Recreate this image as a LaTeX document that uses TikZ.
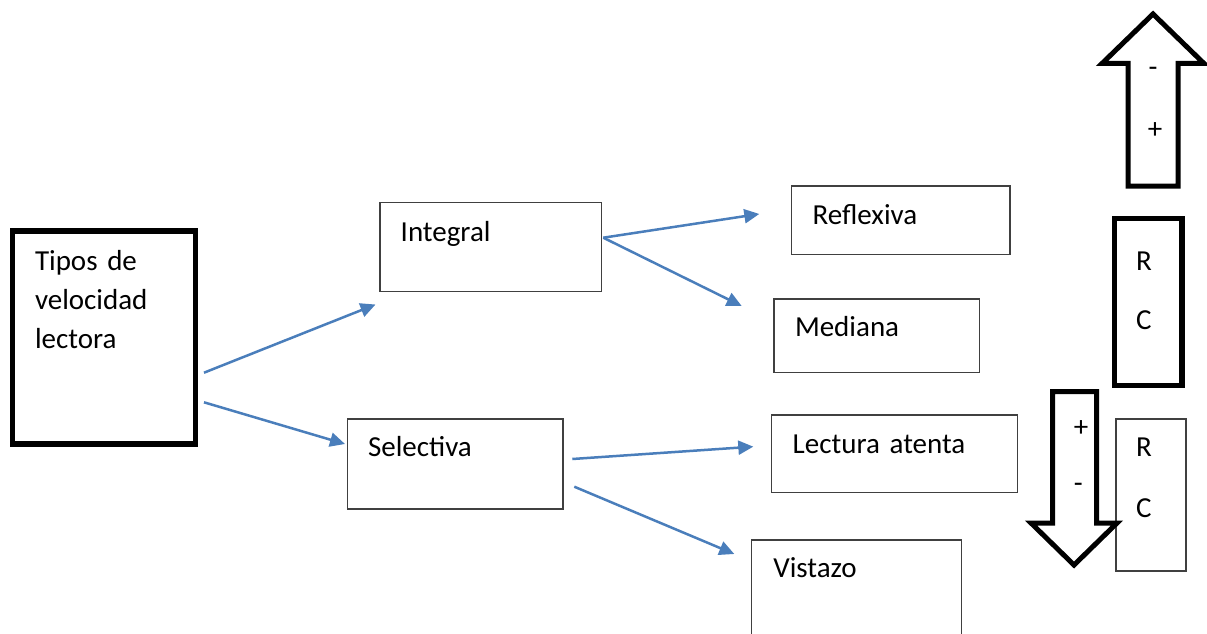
\documentclass[tikz,border=0pt]{standalone}
\usepackage{fontspec}
\setmainfont{Carlito}
\usetikzlibrary{arrows.meta}

\definecolor{linkblue}{HTML}{4A7EBB}

\tikzset{
  box/.style={draw=black!75, line width=1.3pt, anchor=north west, align=left,
    inner ysep=0pt, outer sep=0pt, font=\fontsize{29}{39}\selectfont},
  thickbox/.style={box, draw=black, line width=5.4pt},
  link/.style={draw=linkblue, line width=2.5pt,
    -{Triangle[length=15pt,width=14pt]}},
  blockarrow/.style={draw=black, line width=5pt, line join=miter},
  sign/.style={inner sep=0pt, font=\fontsize{29}{39}\selectfont}
}

\begin{document}
\begin{tikzpicture}[x=1pt,y=-1pt]
    \useasboundingbox (0,0) rectangle (1207,634);
    \clip (0,0) rectangle (1207,634);

    % boxes
    \node[thickbox, inner xsep=22.5pt, text width=138pt, text height=39pt, text depth=174pt]
      (tipos) at (12.5,231) {Tipos de\\velocidad\\lectora};
    \node[box, inner xsep=20.7pt, text width=180.3pt, text height=38.3pt, text depth=50.7pt]
      (integral) at (380,202.7) {Integral};
    \node[box, inner xsep=20.7pt, text width=174.3pt, text height=37.7pt, text depth=52.3pt]
      (selectiva) at (347.3,419) {Selectiva};
    \node[box, inner xsep=21pt, text width=176.3pt, text height=38.3pt, text depth=30pt]
      (reflexiva) at (791.7,186) {Reflexiva};
    \node[box, inner xsep=21pt, text width=163.3pt, text height=37.7pt, text depth=35.6pt]
      (mediana) at (774,299) {Mediana};
    \node[box, inner xsep=21pt, text width=204pt, text height=38.3pt, text depth=39.4pt]
      (lectura) at (771.7,415) {Lectura atenta};
    \node[box, inner xsep=21.6pt, text width=166.8pt, text height=37.7pt, text depth=100pt]
      (vistazo) at (751.7,540) {Vistazo};
    \node[thickbox, inner xsep=21.5pt, text width=24.3pt, text height=51.7pt, text depth=115.5pt]
      (rcup) at (1114.5,218.3) {R\\[20.3pt]C};
    \node[box, inner xsep=20pt, text width=30pt, text height=37.7pt, text depth=114.3pt]
      (rcdown) at (1116,419) {R\\[21.6pt]C};

    % connectors
    \draw[link] ([shift={(8.5,35.2)}]tipos.east) -- ([shift={(-4.5,12.8)}]integral.south west);
    \draw[link] ([shift={(8.5,64.8)}]tipos.east) -- ([shift={(-2.3,-20)}]selectiva.west);
    \draw[link] ([shift={(1.6,-9.5)}]integral.east) -- ([shift={(-32.4,-6.2)}]reflexiva.west);
    \draw[link] ([shift={(1.6,-9.5)}]integral.east) -- ([shift={(-32.3,7)}]mediana.north west);
    \draw[link] ([shift={(9.3,-5)}]selectiva.east) -- ([shift={(-18.4,-7.2)}]lectura.west);
    \draw[link] ([shift={(11.3,22.7)}]selectiva.east) -- ([shift={(-17.4,14)}]vistazo.north west);

    % block arrows
    \draw[blockarrow] (1128,186) -- (1128,63.5) -- (1102,63.5) -- (1153,14)
      -- (1204,63.5) -- (1178,63.5) -- (1178,186) -- cycle;
    \node[sign] (upminus) at (1153,71.8) {-};
    \node[sign] (upplus) at (1155,131) {+};
    \draw[blockarrow] (1052.5,391.5) -- (1096.5,391.5) -- (1096.5,523) -- (1117,523)
      -- (1074,565) -- (1031,523) -- (1052.5,523) -- cycle;
    \node[sign] (downplus) at (1081,428.3) {+};
    \node[sign] (downminus) at (1078.3,488.3) {-};
  \end{tikzpicture}
\end{document}
